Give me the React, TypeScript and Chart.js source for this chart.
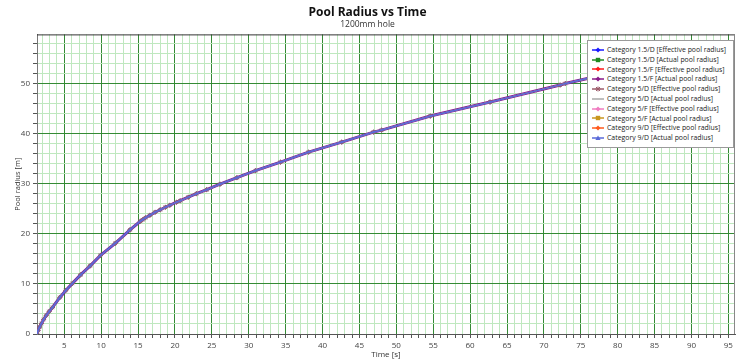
import React, { useEffect, useRef } from "react";
import { Chart, registerables } from "chart.js";

Chart.register(...registerables);

// ---- data ----
const TIME_S = [
  1.3, 1.45, 1.65, 1.9, 2.2, 2.55, 2.95, 3.4, 4.4, 5.2, 6.1, 7.2, 8.5, 9.9, 11.9, 13.9,
  15.3, 15.6, 16.0, 16.6, 17.3, 18.0, 18.7, 19.3, 20.2, 20.7, 21.8, 22.9, 24.3, 26.1, 28.4,
  30.9, 34.3, 38.1, 42.6, 46.9, 48.0, 54.6, 62.7, 72.2, 72.9, 76.5,
];
const RADIUS_M = [
  0.0, 0.7, 1.4, 2.1, 2.9, 3.7, 4.5, 5.3, 7.3, 8.7, 10.1, 11.8, 13.6, 15.7, 18.1, 20.8,
  22.5, 22.8, 23.2, 23.7, 24.3, 24.8, 25.3, 25.7, 26.3, 26.6, 27.3, 28.0, 28.8, 29.9, 31.2,
  32.6, 34.3, 36.3, 38.3, 40.3, 40.7, 43.5, 46.3, 49.7, 50.0, 51.2,
];
const SERIES_NAMES = [
  "Category 1.5/D [Effective pool radius]",
  "Category 1.5/D [Actual pool radius]",
  "Category 1.5/F [Effective pool radius]",
  "Category 1.5/F [Actual pool radius]",
  "Category 5/D [Effective pool radius]",
  "Category 5/D [Actual pool radius]",
  "Category 5/F [Effective pool radius]",
  "Category 5/F [Actual pool radius]",
  "Category 9/D [Effective pool radius]",
  "Category 9/D [Actual pool radius]",
];
const TITLE = "Pool Radius vs Time";
const SUBTITLE = "1200mm hole";
const X_TITLE = "Time [s]";
const Y_TITLE = "Pool radius [m]";
const X_RANGE = [1.3, 95.9];
const Y_RANGE = [0, 59.8];
const X_STEP = 1;
const Y_STEP = 2;
const X_LABEL_EVERY = 5;
const Y_LABEL_EVERY = 10;

// ---- styles ----
const SERIES_COLORS = [
  "#1a1aff", "#1f8a1f", "#ff1a1a", "#8a1a8a", "#9c5b6b",
  "#a8a8a8", "#f07cc0", "#c8961e", "#ff5a1e", "#5a6ad8",
];
const SERIES_MARKERS: (string | false)[] = [
  "rectRot", "rect", "rectRot", "rectRot", "star",
  false, "rectRot", "rect", "rectRot", "triangle",
];
// marker size drawn on the plot (the series overlap almost exactly)
const PLOT_MARKER_RADIUS = [0, 0, 0, 2.6, 2.4, 0, 0, 0, 0, 1.6];
const PLOT_LINE_WIDTH = [1, 1, 1, 3, 1, 1, 1, 1, 1, 1.8];
const FONT = "'Open Sans', 'Noto Sans', sans-serif";
const MAJOR_GRID = "#348a34";
const MINOR_GRID = "#bfe8bf";

function Marker({ shape, color }: { shape: string | false; color: string }) {
  const cx = 6, cy = 4;
  let m: React.ReactNode = null;
  if (shape === "rectRot") m = <polygon points={`${cx},${cy - 2.5} ${cx + 2.5},${cy} ${cx},${cy + 2.5} ${cx - 2.5},${cy}`} fill={color} />;
  else if (shape === "rect") m = <rect x={cx - 2.2} y={cy - 2.2} width={4.4} height={4.4} fill={color} />;
  else if (shape === "triangle") m = <polygon points={`${cx},${cy - 2.6} ${cx + 2.6},${cy + 2} ${cx - 2.6},${cy + 2}`} fill={color} />;
  else if (shape === "star")
    m = (
      <g stroke={color} strokeWidth={1}>
        <line x1={cx - 2.5} y1={cy} x2={cx + 2.5} y2={cy} />
        <line x1={cx} y1={cy - 2.5} x2={cx} y2={cy + 2.5} />
        <line x1={cx - 2} y1={cy - 2} x2={cx + 2} y2={cy + 2} />
        <line x1={cx - 2} y1={cy + 2} x2={cx + 2} y2={cy - 2} />
      </g>
    );
  return (
    <svg width={12} height={8} style={{ display: "block", flex: "none" }}>
      <line x1={0} y1={cy} x2={12} y2={cy} stroke={color} strokeWidth={1.5} />
      {m}
    </svg>
  );
}

const framePlugin = {
  id: "frame",
  afterDraw(chart: any) {
    const { ctx, chartArea: a } = chart;
    ctx.save();
    ctx.lineWidth = 1;
    ctx.strokeStyle = "#333";
    ctx.beginPath();
    ctx.moveTo(a.left, a.top + 0.5);
    ctx.lineTo(a.right, a.top + 0.5);
    ctx.stroke();
    ctx.strokeStyle = "#888";
    ctx.beginPath();
    ctx.moveTo(a.right - 0.5, a.top);
    ctx.lineTo(a.right - 0.5, a.bottom);
    ctx.stroke();
    ctx.restore();
  },
};

export default function App() {
  const ref = useRef<HTMLCanvasElement>(null);

  useEffect(() => {
    const points = TIME_S.map((t, i) => ({ x: t, y: RADIUS_M[i] }));
    const datasets = SERIES_NAMES.map((name, i) => ({
      label: name,
      data: points,
      borderColor: SERIES_COLORS[i],
      backgroundColor: i === 3 ? "#6e5a8e" : SERIES_COLORS[i],
      borderWidth: PLOT_LINE_WIDTH[i],
      pointStyle: SERIES_MARKERS[i] || "circle",
      pointRadius: PLOT_MARKER_RADIUS[i],
      pointBorderWidth: i === 4 ? 1 : 0,
      pointBorderColor: SERIES_COLORS[i],
      tension: 0,
      order: 9 - i,
    }));

    const chart = new Chart(ref.current!, {
      type: "line",
      data: { datasets },
      plugins: [framePlugin],
      options: {
        responsive: false,
        animation: false,
        events: [],
        layout: { padding: { left: 0, right: 19, top: 0, bottom: 0 } },
        plugins: {
          legend: { display: false },
          tooltip: { enabled: false },
          title: {
            display: true,
            text: TITLE,
            color: "#111",
            font: { family: FONT, size: 12, weight: "bold" },
            padding: { top: 5, bottom: 0 },
          },
          subtitle: {
            display: true,
            text: SUBTITLE,
            color: "#333",
            font: { family: FONT, size: 8.5 },
            padding: { top: 0, bottom: 4.8 },
          },
        },
        scales: {
          x: {
            type: "linear",
            min: X_RANGE[0],
            max: X_RANGE[1],
            afterFit: (s: any) => { s.height = 28; },
            ticks: {
              stepSize: X_STEP,
              includeBounds: false,
              autoSkip: false,
              maxRotation: 0,
              padding: 3,
              color: "#444",
              font: { family: FONT, size: 8 },
              callback: (v: any) => (Math.round(v) % X_LABEL_EVERY === 0 ? String(v) : ""),
            },
            grid: {
              color: (c: any) => (c.tick && Math.round(c.tick.value) % X_LABEL_EVERY === 0 ? MAJOR_GRID : MINOR_GRID),
              tickColor: "#555",
              tickLength: 4,
            },
            border: { color: "#555" },
            title: {
              display: true,
              text: X_TITLE,
              color: "#333",
              font: { family: FONT, size: 8 },
              padding: { top: 0, bottom: 2 },
            },
          },
          y: {
            type: "linear",
            min: Y_RANGE[0],
            max: Y_RANGE[1],
            afterFit: (s: any) => { s.width = 37; },
            ticks: {
              stepSize: Y_STEP,
              includeBounds: false,
              autoSkip: false,
              padding: 3,
              color: "#444",
              font: { family: FONT, size: 8 },
              callback: (v: any) => (Math.round(v) % Y_LABEL_EVERY === 0 ? String(v) : ""),
            },
            grid: {
              color: (c: any) => (c.tick && Math.round(c.tick.value) % Y_LABEL_EVERY === 0 && c.tick.value !== 0 ? MAJOR_GRID : MINOR_GRID),
              tickColor: "#555",
              tickLength: 4,
            },
            border: { color: "#777" },
            title: {
              display: true,
              text: Y_TITLE,
              color: "#333",
              font: { family: FONT, size: 7.5 },
              padding: { top: 13, bottom: 0 },
            },
          },
        },
      } as any,
    });
    return () => chart.destroy();
  }, []);

  return (
    <div style={{ position: "fixed", left: 0, top: 0, width: 754, height: 362, background: "#fff" }}>
      <canvas ref={ref} width={754} height={362} style={{ display: "block" }} />
      <div
        style={{
          position: "absolute",
          left: 587,
          top: 40,
          width: 147,
          height: 108,
          boxSizing: "border-box",
          border: "1px solid #9a9a9a",
          background: "#fff",
          fontFamily: FONT,
          fontSize: 6.9,
          color: "#222",
        }}
      >
        {SERIES_NAMES.map((name, i) => (
          <div
            key={name}
            style={{
              position: "absolute",
              left: 4,
              top: 4 + i * 9.8,
              height: 9.8,
              display: "flex",
              alignItems: "center",
              whiteSpace: "nowrap",
            }}
          >
            <Marker shape={SERIES_MARKERS[i]} color={SERIES_COLORS[i]} />
            <span style={{ marginLeft: 3, lineHeight: "9.8px" }}>{name}</span>
          </div>
        ))}
      </div>
    </div>
  );
}
